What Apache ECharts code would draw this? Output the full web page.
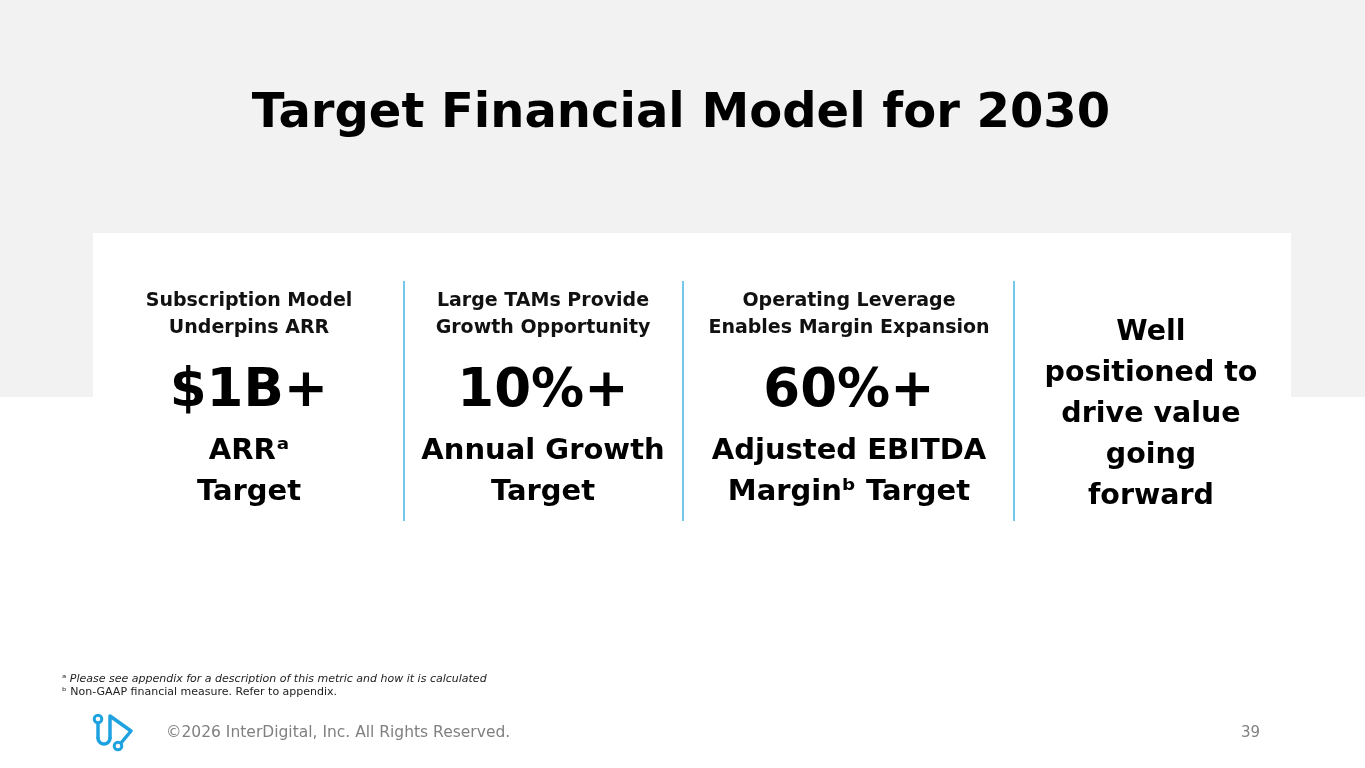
<!DOCTYPE html>
<html>
<head>
<meta charset="utf-8">
<script src="https://cdn.jsdelivr.net/npm/echarts@6/dist/echarts.min.js"></script>
<style>
html,body{margin:0;padding:0;background:#fff;}
#chart{width:1365px;height:768px;}
</style>
</head>
<body>
<div id="chart"></div>
<script>
const slideTitle = "Target Financial Model for 2030";
const headings = [
  ["Subscription Model", "Underpins ARR"],
  ["Large TAMs Provide", "Growth Opportunity"],
  ["Operating Leverage", "Enables Margin Expansion"]
];
const values = ["$1B+", "10%+", "60%+"];
const captions = [
  ["ARRᵃ", "Target"],
  ["Annual Growth", "Target"],
  ["Adjusted EBITDA", "Marginᵇ Target"]
];
const closing = ["Well", "positioned to", "drive value", "going", "forward"];
const footnotes = [
  ["ᵃ ", "Please see appendix for a description of this metric and how it is calculated", true],
  ["ᵇ ", "Non-GAAP financial measure. Refer to appendix.", false]
];
const copyright = "©2026 InterDigital, Inc. All Rights Reserved.";
const pageNumber = "39";

const FONT = '"DejaVu Sans", sans-serif';
const colCenters = [249, 543, 849, 1151];
const dividerX = [404, 683, 1014];
const blue = '#29a9e0';
const logoBlue = '#1fa3e0';

const g = [];
g.push({type:'rect', shape:{x:0,y:0,width:1365,height:397}, style:{fill:'#f2f2f2'}, silent:true});
g.push({type:'rect', shape:{x:93,y:233,width:1198,height:300}, style:{fill:'#ffffff'}, silent:true});
g.push({type:'text', style:{text:slideTitle, x:681, y:115, align:'center', verticalAlign:'middle', font:'bold 48px ' + FONT, fill:'#000'}});

dividerX.forEach(x => g.push({type:'line', shape:{x1:x,y1:281,x2:x,y2:521}, style:{stroke:blue, lineWidth:1.3}}));

headings.forEach((lines, i) => {
  lines.forEach((t, j) => g.push({type:'text', style:{text:t, x:colCenters[i], y:301 + j*27, align:'center', verticalAlign:'middle', font:'bold 19px ' + FONT, fill:'#111'}}));
});
values.forEach((t, i) => g.push({type:'text', style:{text:t, x:colCenters[i], y:392, align:'center', verticalAlign:'middle', font:'bold 53px ' + FONT, fill:'#000'}}));
captions.forEach((lines, i) => {
  lines.forEach((t, j) => g.push({type:'text', style:{text:t, x:colCenters[i], y:451 + j*41, align:'center', verticalAlign:'middle', font:'bold 29px ' + FONT, fill:'#000'}}));
});
closing.forEach((t, j) => g.push({type:'text', style:{text:t, x:colCenters[3], y:333 + j*41, align:'center', verticalAlign:'middle', font:'bold 28.5px ' + FONT, fill:'#000'}}));

footnotes.forEach((f, j) => {
  g.push({type:'text', style:{text:'{s|' + f[0] + '}{t|' + f[1] + '}', x:62, y:679 + j*13, align:'left', verticalAlign:'middle',
    rich:{s:{font:'11px ' + FONT, fill:'#222'}, t:{font:(f[2] ? 'italic ' : '') + '11px ' + FONT, fill:'#222'}}}});
});
g.push({type:'text', style:{text:copyright, x:166, y:733, align:'left', verticalAlign:'middle', font:'15.5px ' + FONT, fill:'#808080'}});
g.push({type:'text', style:{text:pageNumber, x:1260, y:733, align:'right', verticalAlign:'middle', font:'15px ' + FONT, fill:'#808080'}});

// logo
const logoStroke = {stroke:logoBlue, lineWidth:3.5, fill:null, lineJoin:'round', lineCap:'round'};
g.push({type:'line', shape:{x1:98,y1:723,x2:98,y2:738}, style:logoStroke});
g.push({type:'arc', shape:{cx:104,cy:738,r:6,startAngle:0,endAngle:Math.PI,clockwise:true}, style:logoStroke});
g.push({type:'polyline', shape:{points:[[110,738],[110,716],[131,731],[121,743]]}, style:logoStroke});
g.push({type:'circle', shape:{cx:98,cy:719,r:3.8}, style:{stroke:logoBlue, lineWidth:3, fill:'#fff'}});
g.push({type:'circle', shape:{cx:118,cy:746,r:3.8}, style:{stroke:logoBlue, lineWidth:3, fill:'#fff'}});

const chart = echarts.init(document.getElementById('chart'), null, {renderer:'canvas'});
chart.setOption({backgroundColor:'#ffffff', animation:false, graphic:{elements:g}});
</script>
</body>
</html>
